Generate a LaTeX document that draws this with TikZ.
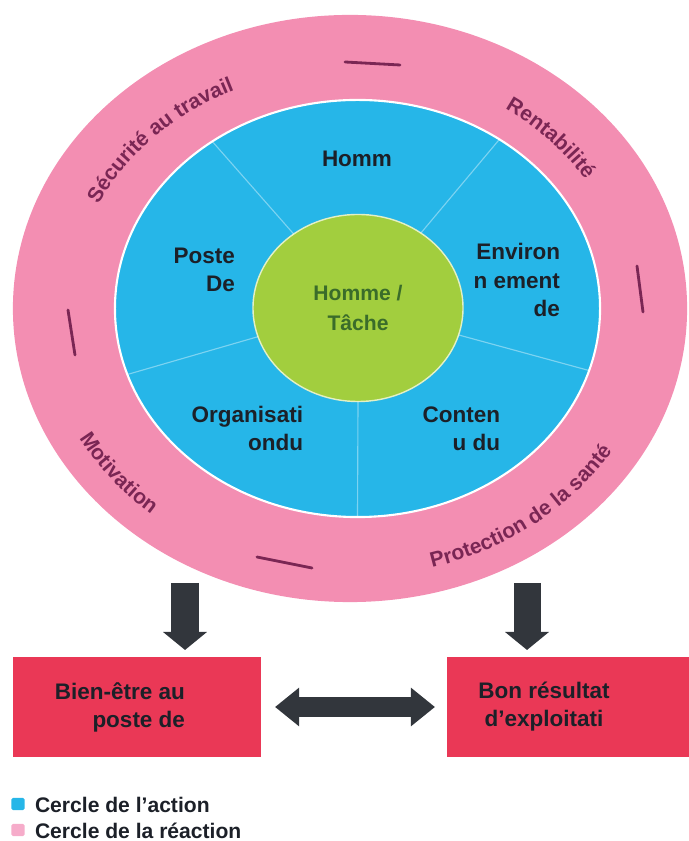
\documentclass[tikz,border=0pt]{standalone}
\usepackage{fontspec}
\setmainfont{Liberation Sans}
\usetikzlibrary{shapes.geometric,arrows.meta,decorations.text}

\definecolor{reactpink}{RGB}{243,142,178}
\definecolor{keypink}{RGB}{246,172,202}
\definecolor{actblue}{RGB}{38,182,232}
\definecolor{hubgreen}{RGB}{162,206,62}
\definecolor{hubtext}{RGB}{58,108,42}
\definecolor{ringtext}{RGB}{122,38,84}
\definecolor{outred}{RGB}{234,56,86}
\definecolor{arrowgray}{RGB}{50,54,60}
\definecolor{labeltext}{RGB}{28,32,40}

\newcommand{\ringfont}{\fontsize{15}{18}\selectfont\bfseries\color{ringtext}}

\begin{document}
\begin{tikzpicture}[x=0.025cm,y=0.025cm]
	\tikzstyle{every node}=[font=\fontsize{16}{20}\selectfont, inner sep=0pt, outer sep=0pt]
	\tikzstyle{ringshape}=[ellipse, draw=none]
	\tikzstyle{sector}=[font=\fontsize{16}{20}\selectfont\bfseries, text=labeltext, align=right]
	\tikzstyle{outcome}=[rectangle, fill=outred, minimum height=2.5cm]
	\tikzstyle{ringmark}=[draw=ringtext, line width=2pt, line cap=round]
	\tikzstyle{legendkey}=[rectangle, rounded corners=1pt, minimum width=0.33cm, minimum height=0.3cm]
	\tikzstyle{legendtext}=[anchor=west, font=\fontsize{15}{18}\selectfont\bfseries, text=labeltext]
	\tikzstyle{bigarrow}=[draw=arrowgray, line width=0.675cm, -{Triangle[width=1.075cm,length=0.45cm]}, arrowgray]
	\tikzstyle{twoway}=[draw=arrowgray, line width=0.5cm, {Triangle[width=0.925cm,length=0.6cm]}-{Triangle[width=0.925cm,length=0.6cm]}, arrowgray]
	\useasboundingbox (0,0) rectangle (689,841);

	\node[ringshape, fill=reactpink, minimum width=16.85cm, minimum height=14.675cm] (reaction) at (350,532.5) {};
	\node[ringshape, fill=actblue, draw=white, line width=1.5pt, minimum width=12.125cm, minimum height=10.425cm] (action) at (357.5,532.5) {};
	\node[ringshape, fill=hubgreen, draw=white!70!hubgreen, line width=1pt, minimum width=5.25cm, minimum height=4.675cm] (hub) at (358,533) {};
	\foreach \a in {131,50,-15,196,270}
		\draw[white, opacity=0.4, line width=0.8pt] (hub.\a) -- (action.\a);

	\draw[ringmark] (345,779) -- (400,776);
	\draw[ringmark] (68,531) -- (75,486);
	\draw[ringmark] (637,575) -- (643,529);
	\draw[ringmark] (257,284) -- (312,273);

	\path[decorate, decoration={text along path, text align=center, text={|\ringfont|Sécurité au travail}}]
		(reaction.center) ++(165:279 and 240) arc[start angle=165, end angle=105, x radius=279, y radius=240];
	\path[decorate, decoration={text along path, text align=center, text={|\ringfont|Rentabilité}}]
		(reaction.center) ++(73:279 and 240) arc[start angle=73, end angle=14, x radius=279, y radius=240];
	\path[decorate, decoration={text along path, text align=center, text={|\ringfont|Motivation}}]
		(reaction.center) ++(188:309 and 269) arc[start angle=188, end angle=249, x radius=309, y radius=269];
	\path[decorate, decoration={text along path, text align=center, text={|\ringfont|Protection de la santé}}]
		(reaction.center) ++(272:309 and 269) arc[start angle=272, end angle=343, x radius=309, y radius=269];

	\node[sector, align=center] (man) at (357,682) {Homm};
	\node[sector, anchor=east] (post) at (235,571.5) {Poste\\De};
	\node[sector, anchor=east] (envt) at (560,561) {Environ\\n ement\\de};
	\node[sector, anchor=east] (orga) at (303,412.5) {Organisati\\ondu};
	\node[sector, anchor=east] (cont) at (500,412.5) {Conten\\u du};
	\node[font=\fontsize{15}{21.5}\selectfont\bfseries, text=hubtext, align=center] (task) at (hub.center) {Homme /\\Tâche};

	\node[outcome, minimum width=6.2cm] (wellbeing) at (137,134) {};
	\node[outcome, minimum width=6.05cm] (result) at (568,134) {};
	\node[sector, anchor=east] (wbtext) at ([xshift=-1.9cm]wellbeing.east) {Bien-être au\\poste de};
	\node[sector, align=center] (restext) at ([xshift=-0.6cm]result.center) {Bon résultat\\d’exploitati};

	\coordinate (dropL) at (185,258);
	\coordinate (dropR) at (527,258);
	\draw[bigarrow, shorten >=0.175cm] (dropL) -- (dropL |- wellbeing.north);
	\draw[bigarrow, shorten >=0.175cm] (dropR) -- (dropR |- result.north);
	\draw[twoway, shorten <=0.35cm, shorten >=0.3cm] (wellbeing.east) -- (result.west);

	\node[legendkey, fill=actblue] (actkey) at (18,37) {};
	\node[legendkey, fill=keypink] (reactkey) at (18,11) {};
	\node[legendtext] (actlabel) at (35,36.5) {Cercle de l'action};
	\node[legendtext] (reactlabel) at (35,10.5) {Cercle de la réaction};
\end{tikzpicture}
\end{document}
